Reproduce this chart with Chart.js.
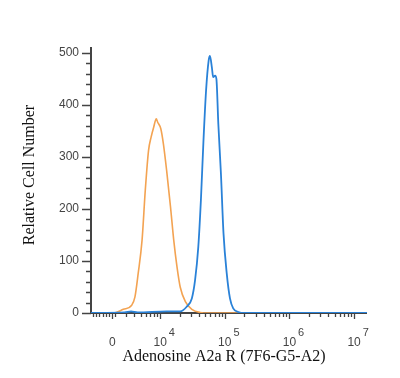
<!DOCTYPE html>
<html>
<head>
<meta charset="utf-8">
<script src="https://cdn.jsdelivr.net/npm/chart.js@4"></script>
<style>
  html, body { margin: 0; padding: 0; background: #fff; }
  #wrap { width: 400px; height: 378px; }
</style>
</head>
<body>
<div id="wrap"><canvas id="histChart" width="400" height="378"></canvas></div>
<script>
// x values are in log10 display units (biexponential axis), y in cell counts
const isoX = [2.93, 3.27, 3.43, 3.56, 3.61, 3.66, 3.72, 3.77, 3.82, 3.86, 3.90, 3.94, 3.96, 4.01, 4.05, 4.10, 4.16, 4.21, 4.26, 4.31, 4.39, 4.49, 4.62, 4.75, 7.2];
const isoY = [0, 0, 7, 15, 31, 76, 140, 236, 312, 338, 357, 373, 367, 354, 325, 274, 204, 140, 89, 50, 22, 7, 1, 0, 0];

const stainX = [2.93, 3.45, 3.55, 3.65, 4.1, 4.31, 4.41, 4.49, 4.54, 4.59, 4.63, 4.67, 4.71, 4.75, 4.77, 4.80, 4.82, 4.85, 4.87, 4.90, 4.94, 4.98, 5.03, 5.08, 5.13, 5.21, 5.3, 7.2];
const stainY = [0, 1, 3, 1, 3, 3, 12, 28, 63, 127, 216, 331, 427, 485, 494, 472, 453, 456, 450, 363, 268, 153, 76, 28, 9, 2, 0, 0];

const yTicks = [0, 100, 200, 300, 400, 500];
const xTickValues = [3.26, 4, 5, 6, 7];
const xTickBase = ['0', '10', '10', '10', '10'];
const xTickExp = ['', '4', '5', '6', '7'];

const xTitle = 'Adenosine A2a R (7F6-G5-A2)';
const yTitle = 'Relative Cell Number';

function toPoints(xs, ys) {
    return xs.map((x, i) => ({ x: x, y: ys[i] }));
}

// minor tick positions on the x axis
function xMinorTicks() {
    const out = [];
    for (let v = 2.96; v < 3.26; v += 0.05) out.push(v);
    for (let d = 3; d < 7; d++) {
        for (let k = 2; k < 10; k++) {
            const v = d + Math.log10(k);
            if (v > 3.3) out.push(v);
        }
    }
    return out;
}

// axes, ticks and labels drawn from the chart scales
const axesPlugin = {
    id: 'flowAxes',
    beforeDatasetsDraw(chart) {
        const ctx = chart.ctx;
        const x = chart.scales.x;
        const y = chart.scales.y;
        const area = chart.chartArea;
        ctx.save();
        ctx.strokeStyle = '#444';
        ctx.lineWidth = 2;
        ctx.beginPath();
        ctx.moveTo(area.left, area.top);
        ctx.lineTo(area.left, area.bottom);
        ctx.lineTo(area.right, area.bottom);
        ctx.stroke();

        ctx.lineWidth = 1.3;
        ctx.beginPath();
        for (let v = 0; v <= 500; v += 20) {
            const py = Math.round(y.getPixelForValue(v)) + 0.5;
            const len = v % 100 === 0 ? 9 : 5;
            ctx.moveTo(area.left - len, py);
            ctx.lineTo(area.left, py);
        }
        xTickValues.forEach(v => {
            const px = Math.round(x.getPixelForValue(v)) + 0.5;
            ctx.moveTo(px, area.bottom);
            ctx.lineTo(px, area.bottom + 6);
        });
        xMinorTicks().forEach(v => {
            const px = Math.round(x.getPixelForValue(v)) + 0.5;
            ctx.moveTo(px, area.bottom);
            ctx.lineTo(px, area.bottom + 4);
        });
        ctx.stroke();
        ctx.restore();
    },
    afterDraw(chart) {
        const ctx = chart.ctx;
        const x = chart.scales.x;
        const y = chart.scales.y;
        const area = chart.chartArea;
        ctx.save();
        ctx.fillStyle = '#444';
        ctx.font = '12px "Liberation Sans", Arial, sans-serif';
        ctx.textAlign = 'right';
        ctx.textBaseline = 'middle';
        yTicks.forEach(v => {
            ctx.fillText(String(v), area.left - 12, y.getPixelForValue(v));
        });

        xTickValues.forEach((v, i) => {
            const px = x.getPixelForValue(v);
            ctx.font = '12px "Liberation Sans", Arial, sans-serif';
            ctx.textAlign = 'center';
            ctx.textBaseline = 'middle';
            ctx.fillText(xTickBase[i], px, area.bottom + 30);
            if (xTickExp[i]) {
                const w = ctx.measureText(xTickBase[i]).width;
                ctx.font = '11px "Liberation Sans", Arial, sans-serif';
                ctx.textAlign = 'left';
                ctx.fillText(xTickExp[i], px + w / 2 + 2, area.bottom + 20);
            }
        });

        ctx.fillStyle = '#111';
        ctx.font = '16px "Liberation Serif", "Times New Roman", serif';
        ctx.textAlign = 'center';
        ctx.textBaseline = 'middle';
        ctx.fillText(xTitle, 224, 357);

        ctx.translate(30, 175);
        ctx.rotate(-Math.PI / 2);
        ctx.fillText(yTitle, 0, 0);
        ctx.restore();
    }
};

const ctx = document.getElementById('histChart').getContext('2d');
const histChart = new Chart(ctx, {
    type: 'line',
    data: {
        datasets: [{
            label: 'Adenosine A2a R',
            data: toPoints(stainX, stainY),
            borderColor: '#2a82d8',
            borderWidth: 1.8,
            pointRadius: 0,
            cubicInterpolationMode: 'monotone',
            fill: false
        }, {
            label: 'Isotype control',
            data: toPoints(isoX, isoY),
            borderColor: '#f3a352',
            borderWidth: 1.6,
            pointRadius: 0,
            cubicInterpolationMode: 'monotone',
            fill: false
        }]
    },
    options: {
        responsive: false,
        animation: false,
        layout: {
            padding: { left: 91, right: 33, top: 47, bottom: 65 }
        },
        scales: {
            x: { type: 'linear', min: 2.93, max: 7.2, display: false },
            y: { min: 0, max: 511, display: false }
        },
        plugins: {
            legend: { display: false },
            tooltip: { enabled: false }
        }
    },
    plugins: [axesPlugin]
});
</script>
</body>
</html>
